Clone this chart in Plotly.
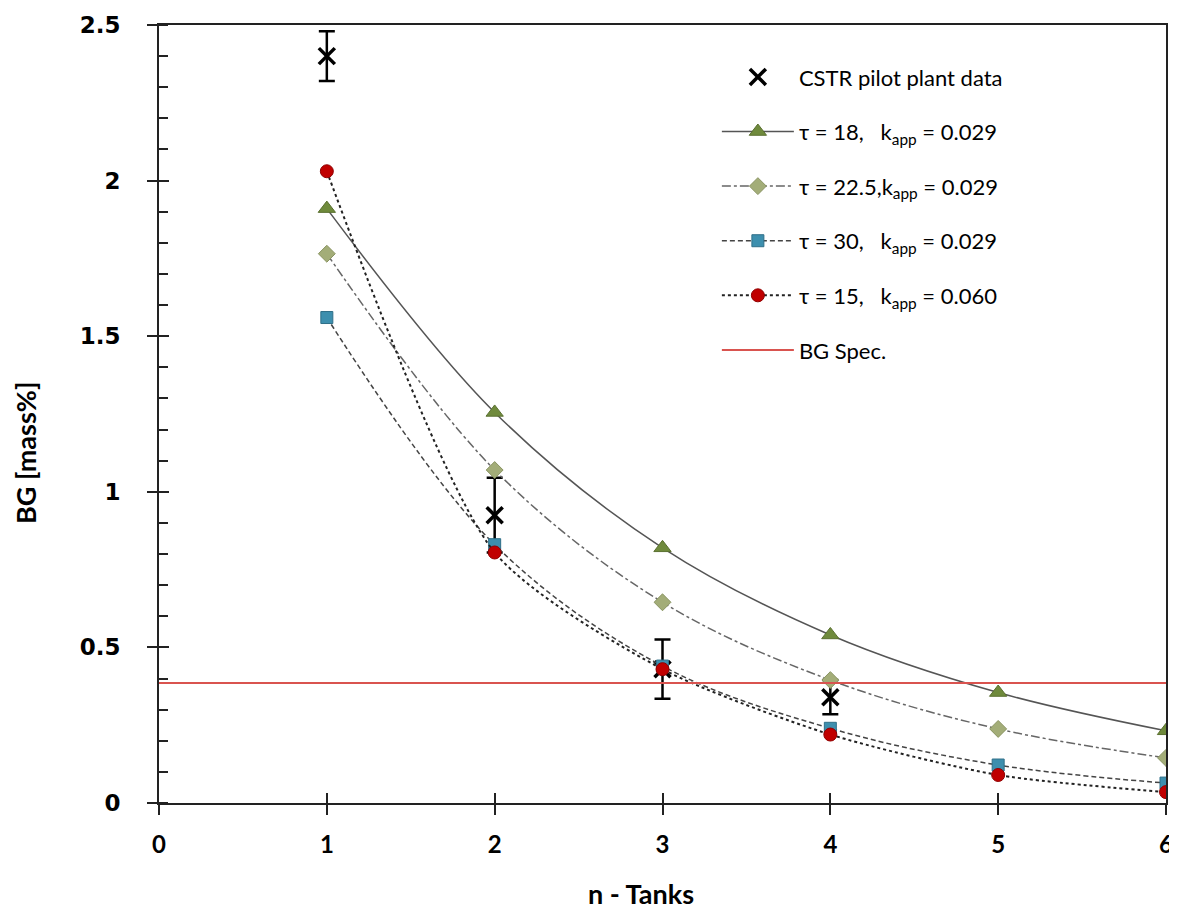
import plotly.graph_objects as go

n_tanks = [1, 2, 3, 4, 5, 6]
cstr_n = [1, 2, 3, 4]
cstr_bg = [2.40, 0.925, 0.43, 0.34]
cstr_err = [0.08, 0.12, 0.095, 0.055]
tau18 = [1.91, 1.255, 0.82, 0.54, 0.355, 0.232]
tau225 = [1.765, 1.07, 0.645, 0.395, 0.238, 0.145]
tau30 = [1.56, 0.83, 0.44, 0.24, 0.122, 0.064]
tau15 = [2.03, 0.805, 0.43, 0.22, 0.09, 0.035]
spec_x = [0, 6]
spec_y = [0.386, 0.386]

LEGFONT = "Lato"
AX = "#222222"
fig = go.Figure()

fig.add_trace(go.Scatter(
    x=cstr_n, y=cstr_bg, mode="markers", name="CSTR pilot plant data",
    marker=dict(symbol="x-thin", size=16, line=dict(width=3.5, color="black"), color="black"),
    error_y=dict(type="data", array=cstr_err, color="black", thickness=2.5, width=8),
    legendgroup="a"))
fig.add_trace(go.Scatter(
    x=n_tanks, y=tau18, mode="lines+markers", name="τ = 18,   k<sub>app</sub> = 0.029",
    line=dict(color="#555555", width=1.5, shape="spline"),
    marker=dict(symbol="triangle-up", size=15, color="#6f8a3c", line=dict(width=1, color="#5a7030")),
    legendgroup="b"))
fig.add_trace(go.Scatter(
    x=n_tanks, y=tau225, mode="lines+markers", name="τ = 22.5,k<sub>app</sub> = 0.029",
    line=dict(color="#666666", width=1.5, dash="dashdot", shape="spline"),
    marker=dict(symbol="diamond", size=13, color="#a3ad78", line=dict(width=1, color="#8a9462")),
    legendgroup="c"))
fig.add_trace(go.Scatter(
    x=n_tanks, y=tau30, mode="lines+markers", name="τ = 30,   k<sub>app</sub> = 0.029",
    line=dict(color="#444444", width=1.5, dash="5px,3px", shape="spline"),
    marker=dict(symbol="square", size=12, color="#3d8fae", line=dict(width=1, color="#2f6f88")),
    legendgroup="d"))
fig.add_trace(go.Scatter(
    x=n_tanks, y=tau15, mode="lines+markers", name="τ = 15,   k<sub>app</sub> = 0.060",
    line=dict(color="#222222", width=2, dash="dot", shape="spline", smoothing=0.7),
    marker=dict(symbol="circle", size=13, color="#c00000", line=dict(width=1, color="#900000")),
    legendgroup="e"))
fig.add_trace(go.Scatter(
    x=spec_x, y=spec_y, mode="lines", name="BG Spec.",
    line=dict(color="#d9534f", width=2),
    legendgroup="f"))

# page body has an 8px default margin; figure size/margins compensate for it
fig.update_layout(
    width=1169, height=903,
    margin=dict(l=151, r=11, t=17, b=108),
    plot_bgcolor="white", paper_bgcolor="white",
    legend=dict(x=0.554, y=0.96, xanchor="left", yanchor="top",
                font=dict(family=LEGFONT, size=22, color="black"),
                tracegroupgap=23, itemwidth=72, bgcolor="rgba(0,0,0,0)"),
    xaxis=dict(range=[0, 6], dtick=1, showgrid=False, zeroline=False, automargin=False,
               showline=True, linecolor=AX, linewidth=2, mirror=True,
               ticks="outside", ticklen=10, tickwidth=2, tickcolor=AX,
               ticklabelstandoff=9,
               tickfont=dict(family="Lato", size=24, color="black", weight="bold")),
    yaxis=dict(range=[0, 2.5], dtick=0.5, showgrid=False, zeroline=False, automargin=False,
               showline=True, linecolor=AX, linewidth=2, mirror=True,
               ticks="outside", ticklen=10, tickwidth=2, tickcolor=AX,
               minor=dict(dtick=0.1, ticks="inside", ticklen=9, tickwidth=1.5, tickcolor=AX),
               ticklabelstandoff=22,
               tickfont=dict(family="DejaVu Sans", size=23, color="black", weight="bold")),
    xaxis2=dict(range=[0, 6], dtick=1, overlaying="x", showticklabels=False, showgrid=False,
                zeroline=False, ticks="inside", ticklen=10, tickwidth=2, tickcolor=AX,
                anchor="y", automargin=False),
    yaxis2=dict(range=[0, 2.5], dtick=0.5, overlaying="y", showticklabels=False, showgrid=False,
                zeroline=False, ticks="inside", ticklen=10, tickwidth=2, tickcolor=AX,
                anchor="x", automargin=False),
    annotations=[
        dict(text="<b>n - Tanks</b>", xref="paper", yref="paper", x=0.4786, y=-0.116,
             xanchor="center", yanchor="middle", showarrow=False,
             font=dict(family="Lato", size=27, color="black")),
        dict(text="<b>BG [mass%]</b>", xref="paper", yref="paper", x=-0.132, y=0.45,
             xanchor="center", yanchor="middle", textangle=-90, showarrow=False,
             font=dict(family="Lato", size=27, color="black")),
    ],
)
fig.add_trace(go.Scatter(x=[None], y=[None], xaxis="x2", yaxis="y2", showlegend=False, hoverinfo="skip"))

fig.write_html("out.html")
